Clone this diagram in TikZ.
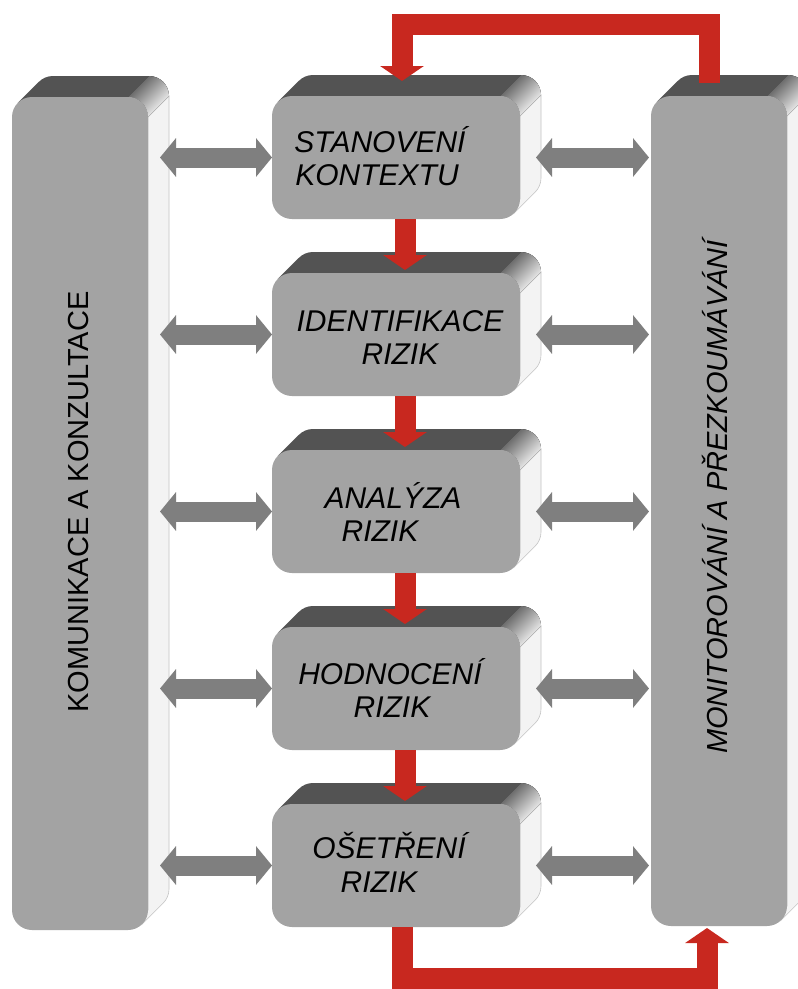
\documentclass[tikz,border=0pt]{standalone}
\usepackage{fontspec}
\usetikzlibrary{arrows.meta,calc}
\newfontfamily\arialfont{Liberation Sans}

\definecolor{facegray}{RGB}{163,163,163}
\definecolor{topgray}{RGB}{83,83,83}
\definecolor{sidegray}{RGB}{243,243,243}
\definecolor{sideedge}{RGB}{196,196,196}
\definecolor{linkgray}{RGB}{127,127,127}
\definecolor{flowred}{RGB}{200,40,31}

% Extruded part of a bevelled block: side face, top face and the rounded
% top-right edge. Arguments: front face x1, y1, x2, y2 (y grows downwards).
\newcommand\extbox[4]{%
  \filldraw[sideface] (#3,#2+20) -- (#3+21,#2-1) -- (#3+21,#4-41)
     arc[start angle=0,end angle=-45,radius=20pt] -- (#3-5.86,#4-5.86) -- (#3,#4-20) -- cycle;
  \fill[topface] (#1+5.86,#2+5.86) -- (#1+20,#2) -- (#3-20,#2) -- (#3+1,#2-21) -- (#1+41,#2-21)
     arc[start angle=90,end angle=135,radius=20pt] -- cycle;
  \fill[topcorner] (#3-20,#2) -- (#3+1,#2-21) arc[start angle=90,end angle=0,radius=20pt]
     -- (#3,#2+20) arc[start angle=0,end angle=90,radius=20pt] -- cycle;
}

\begin{document}
\begin{tikzpicture}[x=1pt,y=-1pt,
  sideface/.style={fill=sidegray, draw=sideedge, line width=0.6pt},
  topface/.style={fill=topgray},
  topcorner/.style={shading=axis, top color=topgray, bottom color=white, shading angle=45},
  facebox/.style={rectangle, rounded corners=20pt, fill=facegray, inner sep=0pt, outer sep=0pt},
  linkarrow/.style={draw=linkgray, line width=20pt,
     arrows={Triangle[length=16pt,width=38pt]-Triangle[length=16pt,width=38pt]}},
  flowarrow/.style={draw=flowred, line width=21pt, line join=miter,
     arrows={-Triangle[length=15pt,width=43pt]}},
  boxlabel/.style={font=\arialfont\itshape\fontsize{30}{33}\selectfont, anchor=base, inner sep=0pt},
  sidelabel/.style={font=\arialfont\fontsize{29}{29}\selectfont, rotate=90, inner sep=0pt},
]
\useasboundingbox (0,0) rectangle (798,989);
\fill[white] (0,0) rectangle (798,989);
\clip (0,0) rectangle (798,989);

% side columns
\extbox{12}{97}{148}{930}
\node[facebox, minimum width=136pt, minimum height=833pt] (L) at (80,513.5) {};
\extbox{651}{96}{787}{926}
\node[facebox, minimum width=136pt, minimum height=830pt] (R) at (719,511) {};

% process steps
\extbox{272}{96}{520}{219}
\node[facebox, minimum width=248pt, minimum height=123pt] (b1) at (396,157.5) {};
\extbox{272}{273}{520}{396}
\node[facebox, minimum width=248pt, minimum height=123pt] (b2) at (396,334.5) {};
\extbox{272}{450}{520}{573}
\node[facebox, minimum width=248pt, minimum height=123pt] (b3) at (396,511.5) {};
\extbox{272}{627}{520}{750}
\node[facebox, minimum width=248pt, minimum height=123pt] (b4) at (396,688.5) {};
\extbox{272}{804}{520}{927}
\node[facebox, minimum width=248pt, minimum height=123pt] (b5) at (396,865.5) {};

% guide lines for the red flow
\coordinate (colM) at (405,0);
\coordinate (colL) at (402,0);
\coordinate (colR) at (709,0);
\coordinate (colRb) at (707,0);
\coordinate (topline) at (0,24.5);
\coordinate (botline) at (0,978.5);

% two-way links to both columns
\foreach \b in {b1,b2,b3,b4,b5}{
  \draw[linkarrow] ($(L.east |- \b.west)+(12,0)$) -- (\b.west);
  \draw[linkarrow] ($(\b.east)+(16,0)$) -- ($(R.west |- \b.east)+(-2,0)$);
}

% main flow
\foreach \a/\b in {b1/b2,b2/b3,b3/b4,b4/b5}
  \draw[flowarrow] (\a.south -| colM) -- ($(\b.north -| colM)+(0,-3)$);
\draw[flowarrow] ($(R.north -| colR)+(0,-13)$) -- (colR |- topline) -- (topline -| colL)
  -- ($(b1.north -| colL)+(0,-15)$);
\draw[flowarrow] (b5.south -| colL) -- (colL |- botline) -- (botline -| colRb)
  -- ($(R.south -| colRb)+(0,2)$);

% labels
\node[boxlabel] (t1a) at (380,152) {STANOVENÍ};
\node[boxlabel] (t1b) at (377,185) {KONTEXTU};
\node[boxlabel] (t2a) at (400,331) {IDENTIFIKACE};
\node[boxlabel] (t2b) at (400,364) {RIZIK};
\node[boxlabel] (t3a) at (393,508) {ANALÝZA};
\node[boxlabel] (t3b) at (380,541) {RIZIK};
\node[boxlabel] (t4a) at (390,684) {HODNOCENÍ};
\node[boxlabel] (t4b) at (392,717) {RIZIK};
\node[boxlabel] (t5a) at (389,858) {OŠETŘENÍ};
\node[boxlabel] (t5b) at (379,892) {RIZIK};

\node[sidelabel] (lt) at (79,502) {KOMUNIKACE A KONZULTACE};
\node[sidelabel, font=\arialfont\itshape\fontsize{29}{29}\selectfont] (rt) at (714.5,497)
  {MONITOROVÁNÍ A PŘEZKOUMÁVÁNÍ};
\end{tikzpicture}
\end{document}
